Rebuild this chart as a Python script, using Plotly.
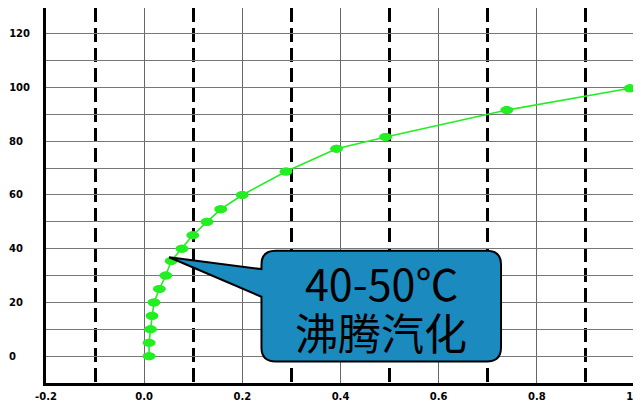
import plotly.graph_objects as go

# ---- data ----
x_vals = [0.010, 0.010, 0.013, 0.016, 0.020, 0.031, 0.044, 0.055, 0.077, 0.099,
          0.128, 0.156, 0.200, 0.289, 0.392, 0.492, 0.739, 0.990]
y_vals = [0.0, 5.0, 10.0, 15.0, 20.0, 25.0, 30.0, 35.4, 40.0, 45.0,
          50.0, 54.7, 60.0, 68.7, 77.2, 81.6, 91.6, 99.7]

x_tick_vals = [-0.2, 0.0, 0.2, 0.4, 0.6, 0.8, 1.0]
x_tick_text = ["-0.2", "0.0", "0.2", "0.4", "0.6", "0.8", "1.0"]
y_tick_vals = [0, 20, 40, 60, 80, 100, 120]
y_tick_text = ["0", "20", "40", "60", "80", "100", "120"]

callout_lines = ["40-50℃", "沸腾汽化"]

GREEN = "#22EE22"
BOX_BLUE = "#1B8BBF"

# pad y labels with no-break spaces so they look left aligned (digit = 2 nbsp in DejaVu Sans Bold)
maxlen = max(len(t) for t in y_tick_text)
y_tick_text_padded = [t + "\u00a0" * (2 * (maxlen - len(t))) for t in y_tick_text]

fig = go.Figure()
fig.add_trace(go.Scatter(
    x=x_vals, y=y_vals, mode="lines+markers",
    line=dict(color=GREEN, width=1.6),
    marker=dict(color=GREEN, size=8),
    showlegend=False, hoverinfo="skip",
))

shapes = []
# elliptical markers anchored at the data points
for xv, yv in zip(x_vals, y_vals):
    shapes.append(dict(
        type="circle", xref="x", yref="y",
        xsizemode="pixel", ysizemode="pixel",
        xanchor=xv, yanchor=yv,
        x0=-6.5, x1=6.5, y0=-4, y1=4,
        fillcolor=GREEN, line=dict(width=0),
    ))

# callout box (data coordinates)
bx0, bx1, by0, by1 = 0.239, 0.727, -2.0, 39.25
rx, ry = 0.029, 5.2
tipx, tipy = 0.051, 36.8
base_lo, base_hi = 22.1, 32.4
path = (
    f"M {bx0+rx},{by1} L {bx1-rx},{by1} Q {bx1},{by1} {bx1},{by1-ry} "
    f"L {bx1},{by0+ry} Q {bx1},{by0} {bx1-rx},{by0} "
    f"L {bx0+rx},{by0} Q {bx0},{by0} {bx0},{by0+ry} "
    f"L {bx0},{base_lo} L {tipx},{tipy} L {bx0},{base_hi} "
    f"L {bx0},{by1-ry} Q {bx0},{by1} {bx0+rx},{by1} Z"
)
shapes.append(dict(type="path", xref="x", yref="y", path=path,
                   fillcolor=BOX_BLUE, line=dict(color="black", width=2)))

cx = (bx0 + bx1) / 2
annotations = [
    dict(x=cx, y=27.6, xref="x", yref="y", text=callout_lines[0], showarrow=False,
         font=dict(family="Noto Sans CJK SC", size=43, color="black")),
    dict(x=cx, y=9.2, xref="x", yref="y", text=callout_lines[1], showarrow=False,
         font=dict(family="Noto Sans CJK SC", size=43, color="black")),
]

tick_font = dict(family="DejaVu Sans", size=10, color="black", weight="bold")

fig.update_layout(
    width=641, height=402,
    margin=dict(l=38, r=14, t=0, b=27, autoexpand=False),
    paper_bgcolor="white", plot_bgcolor="white",
    shapes=shapes, annotations=annotations,
    xaxis=dict(
        range=[-0.2, 1.0], tickvals=x_tick_vals, ticktext=x_tick_text,
        showgrid=True, gridcolor="#666666", gridwidth=1.2,
        zeroline=False, showline=True, linecolor="black", linewidth=3, mirror=True,
        ticks="", tickfont=tick_font, automargin=False, ticklabelstandoff=2,
        minor=dict(tick0=-0.1, dtick=0.2, showgrid=True, gridcolor="black",
                   gridwidth=3, griddash="14px,6px"),
    ),
    yaxis=dict(
        range=[-10, 129.6], tickvals=y_tick_vals, ticktext=y_tick_text_padded,
        showgrid=True, gridcolor="#777777", gridwidth=1.2,
        zeroline=False, showline=True, linecolor="black", linewidth=3,
        ticks="", tickfont=tick_font, automargin=False, ticklabelstandoff=11,
        minor=dict(tick0=0, dtick=10, showgrid=True, gridcolor="#777777", gridwidth=1.2),
    ),
)

fig.write_html("out.html")
